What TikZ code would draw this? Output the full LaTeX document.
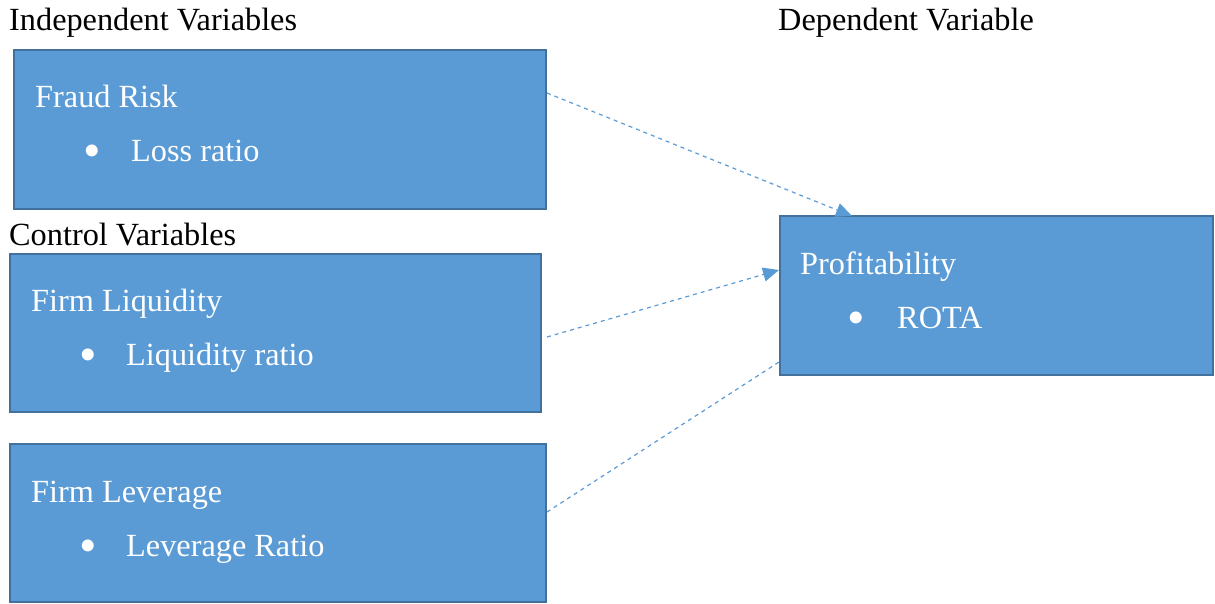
\documentclass[tikz,border=0pt]{standalone}
\usepackage{fontspec}
\setmainfont{Liberation Serif}
\usetikzlibrary{arrows.meta}
\definecolor{boxfill}{HTML}{5B9BD5}
\definecolor{boxline}{HTML}{41719C}
\begin{document}
\begin{tikzpicture}[x=1pt,y=-1pt,
  varbox/.style={draw=boxline,fill=boxfill,line width=2pt,rectangle,inner sep=0pt},
  boxtext/.style={anchor=base west,inner sep=0pt,text=white,font=\fontsize{32.3}{38}\selectfont},
  bullettext/.style={anchor=base,inner sep=0pt,text=white,font=\fontsize{50}{56}\selectfont},
  headtext/.style={anchor=base west,inner sep=0pt,text=black,font=\fontsize{32.3}{38}\selectfont},
  link/.style={draw=boxfill,line width=1.2pt,dash pattern=on 4pt off 4pt}
]
\useasboundingbox (0,0) rectangle (1215,604);
% boxes
\path[varbox] (14,50) rectangle (546,209);
\path[varbox] (10,254) rectangle (541,412);
\path[varbox] (10,444) rectangle (546,602);
\path[varbox] (780,216) rectangle (1213,375);
\node (fr) at (280,129.5) {};
\node (fl) at (275.5,333) {};
\node (lv) at (278,523) {};
\node (pr) at (996.5,295.5) {};
% headings
\node[headtext] (h1) at (9,31) {Independent Variables};
\node[headtext] (h2) at (778,31) {Dependent Variable};
\node[headtext] (h3) at (9,245) {Control Variables};
% box texts
\node[boxtext] (t1) at (35,108) {Fraud Risk};
\node[bullettext] (b1) at (92,168) {•};
\node[boxtext] (s1) at (131,162) {Loss ratio};
\node[boxtext] (t2) at (31,311) {Firm Liquidity};
\node[bullettext] (b2) at (88,371) {•};
\node[boxtext] (s2) at (126,365) {Liquidity ratio};
\node[boxtext] (t3) at (31,502) {Firm Leverage};
\node[bullettext] (b3) at (88,562) {•};
\node[boxtext] (s3) at (126,556) {Leverage Ratio};
\node[boxtext] (t4) at (800,274) {Profitability};
\node[bullettext] (b4) at (856,334) {•};
\node[boxtext] (s4) at (897,328) {ROTA};
% connector endpoints
\coordinate (a1) at (547,93);
\coordinate (e1) at (852,216);
\coordinate (a2) at (547,337);
\coordinate (e2) at (779,270);
\coordinate (a3) at (547,512);
\coordinate (e3) at (779,362);
\draw[link,-{Triangle[length=16pt,width=14pt]}] (a1) -- (e1);
\draw[link,-{Triangle[length=16pt,width=14pt]}] (a2) -- (e2);
\draw[link] (a3) -- (e3);
\end{tikzpicture}
\end{document}
